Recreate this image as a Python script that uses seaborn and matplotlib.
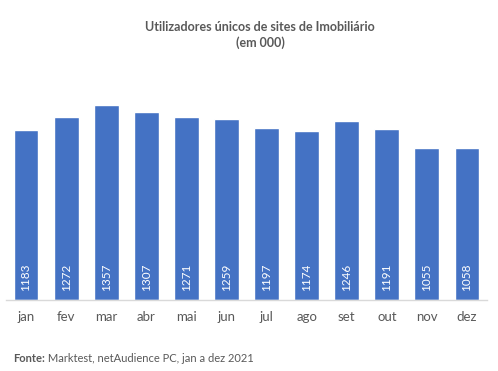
import matplotlib
matplotlib.use('Agg')
import matplotlib.pyplot as plt
import seaborn as sns
import pandas as pd

# dados (em milhares)
meses = ['jan', 'fev', 'mar', 'abr', 'mai', 'jun', 'jul', 'ago', 'set', 'out', 'nov', 'dez']
utilizadores = [1183, 1272, 1357, 1307, 1271, 1259, 1197, 1174, 1246, 1191, 1055, 1058]

sns.set_theme(style='white')
plt.rcParams['font.family'] = ['Lato', 'DejaVu Sans']

AZUL = '#4472C4'
CINZA = '#595959'

df = pd.DataFrame({'mes': meses, 'valor': utilizadores})

fig = plt.figure(figsize=(4.98, 3.71), dpi=100)
ax = fig.add_axes([0.012, 0.1914, 0.966, 0.62])

sns.barplot(data=df, x='mes', y='valor', color=AZUL, saturation=1,
            width=0.62, ax=ax)

ax.set_ylim(0, 1600)
ax.set_xlim(-0.5, 11.5)
ax.set_xlabel('')
ax.set_ylabel('')
ax.set_yticks([])
for s in ['top', 'right', 'left']:
    ax.spines[s].set_visible(False)
ax.spines['bottom'].set_color('#D9D9D9')
ax.spines['bottom'].set_linewidth(1)
ax.tick_params(axis='x', length=0, pad=8, labelsize=9.5, labelcolor=CINZA)

# rótulos de valor na base das barras
for i, v in enumerate(utilizadores):
    ax.text(i, 65, str(v), rotation=90, ha='center', va='bottom',
            color='white', fontsize=8.5)

fig.text(0.522, 0.906, 'Utilizadores únicos de sites de Imobiliário\n(em 000)',
         ha='center', va='center', fontsize=9, fontweight='bold', color=CINZA,
         linespacing=1.3)

t1 = fig.text(0.026, 0.024, 'Fonte:', fontsize=8, fontweight='bold',
              color=CINZA, ha='left', va='baseline')
fig.draw_without_rendering()
bb = t1.get_window_extent()
x0 = bb.x1 / fig.bbox.width
fig.text(x0, 0.024, ' Marktest, netAudience PC, jan a dez 2021', fontsize=8,
         color=CINZA, ha='left', va='baseline')

fig.savefig('out.png', dpi=100)
